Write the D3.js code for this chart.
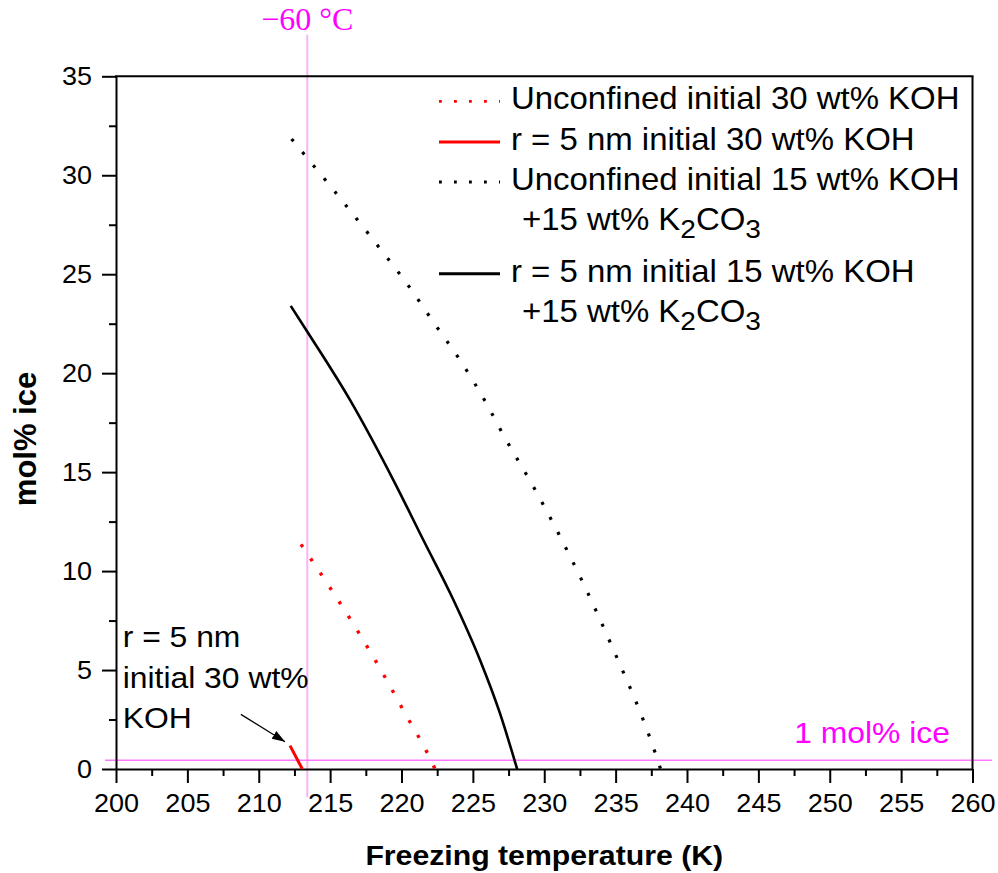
<!DOCTYPE html>
<html>
<head>
<meta charset="utf-8">
<script src="https://cdn.jsdelivr.net/npm/d3@7"></script>
<style>
body{margin:0;background:#fff}
text{font-family:"Liberation Sans",Arial,Helvetica,sans-serif;fill:#000}
</style>
</head>
<body>
<div id="chart"></div>
<script>
// freezing temperature (K), mol% ice
var unconf30 = [[212.96,11.35],[214.95,9.21],[216.81,7.11],[218.56,5.0],[220.25,2.81],[221.88,0.71],[222.35,0]]
var conf30 = [[212.19,1.18],[213.05,0]]
var unconf15 = [[212.3,31.83],[217.84,26.9],[220.78,24.12],[222.18,22.64],[224.17,20.58],[225.97,18.44],[227.08,16.95],[229.35,14.12],[230.87,12.08],[234.6,6.43],[237.8,0.76],[238.15,0]]
var conf15 = [[212.24,23.4],[213.47,22.02],[216.39,18.65],[219.43,14.6],[221.53,11.57],[223.64,8.54],[225.5,5.51],[226.9,2.81],[228.1,0]]

var xMajor = [200,205,210,215,220,225,230,235,240,245,250,255,260]
var xMinor = [202.5,207.5,212.5,217.5,222.5,227.5,232.5,237.5,242.5,247.5,252.5,257.5]
var yMajor = [0,5,10,15,20,25,30,35]
var yMinor = [2.5,7.5,12.5,17.5,22.5,27.5,32.5]

var minus60K = 213.4      // -60 C marker
var iceLevel = 0.44       // "1 mol% ice" marker

var legendItems = [
  {label:"Unconfined initial 30 wt% KOH", color:"#ff0000", dotted:true},
  {label:"r = 5 nm initial 30 wt% KOH", color:"#ff0000", dotted:false},
  {label:"Unconfined initial 15 wt% KOH", color:"#000", dotted:true, extra:true},
  {label:"r = 5 nm initial 15 wt% KOH", color:"#000", dotted:false, extra:true}
]

var width = 998, height = 873
var margin = {top: 76.3, right: 25.5, bottom: 104, left: 116}
var SX = 1.08

var svg = d3.select("#chart").append("svg")
  .attr("width", width).attr("height", height)

var x = d3.scaleLinear().domain([200,260]).range([margin.left, width - margin.right])
var y = d3.scaleLinear().domain([0,35]).range([height - margin.bottom, margin.top])

function stretch(sel, origin){
  sel.style("transform-box","fill-box").style("transform-origin", origin).style("transform","scaleX(" + SX + ")")
}

// reference lines (drawn under the axes)
svg.append("line")
  .attr("x1", x(minus60K)).attr("x2", x(minus60K))
  .attr("y1", y(-1.42)).attr("y2", y(37.1))
  .attr("stroke", "#f8b4f8").attr("stroke-width", 2)
svg.append("line")
  .attr("x1", x(199.23)).attr("x2", x(261.37))
  .attr("y1", y(iceLevel)).attr("y2", y(iceLevel))
  .attr("stroke", "#ff78ff").attr("stroke-width", 1.5)

// axes
var xAxis = svg.append("g")
  .attr("transform", "translate(0," + y(0) + ")")
  .call(d3.axisBottom(x).tickValues(xMajor).tickSize(14).tickSizeOuter(0).tickPadding(8).tickFormat(d3.format("d")))
var xMin = svg.append("g")
  .attr("transform", "translate(0," + y(0) + ")")
  .call(d3.axisBottom(x).tickValues(xMinor).tickSize(7).tickSizeOuter(0).tickFormat(""))
var yAxis = svg.append("g")
  .attr("transform", "translate(" + x(200) + ",0)")
  .call(d3.axisLeft(y).tickValues(yMajor).tickSize(14).tickSizeOuter(0).tickPadding(10).tickFormat(d3.format("d")))
var yMin = svg.append("g")
  .attr("transform", "translate(" + x(200) + ",0)")
  .call(d3.axisLeft(y).tickValues(yMinor).tickSize(7).tickSizeOuter(0).tickFormat(""))
xMin.select(".domain").remove()
yMin.select(".domain").remove()

;[xAxis, xMin, yAxis, yMin].forEach(function(g){
  g.selectAll("path,line").attr("stroke", "#000").attr("stroke-width", 2)
})
xAxis.selectAll("text").attr("font-size", 25).attr("font-family", null).attr("fill", "#000").attr("dy", "0.85em")
  .each(function(){ stretch(d3.select(this), "center") })
yAxis.selectAll("text").attr("font-size", 25).attr("font-family", null).attr("fill", "#000")
  .each(function(){ stretch(d3.select(this), "right") })

// frame top / right
svg.append("line").attr("x1", x(200) - 1).attr("x2", x(260) + 1).attr("y1", y(35)).attr("y2", y(35))
  .attr("stroke", "#000").attr("stroke-width", 2)
svg.append("line").attr("x1", x(260)).attr("x2", x(260)).attr("y1", y(35)).attr("y2", y(0))
  .attr("stroke", "#000").attr("stroke-width", 2)

// series
var line = d3.line().x(function(d){return x(d[0])}).y(function(d){return y(d[1])})
var lineSmooth = d3.line().x(function(d){return x(d[0])}).y(function(d){return y(d[1])}).curve(d3.curveMonotoneX)

svg.append("path").datum(unconf15).attr("d", lineSmooth)
  .attr("fill","none").attr("stroke","#000").attr("stroke-width",3.2).attr("stroke-dasharray","3,14")
svg.append("path").datum(conf15).attr("d", lineSmooth)
  .attr("fill","none").attr("stroke","#000").attr("stroke-width",2.6)
svg.append("path").datum(unconf30).attr("d", lineSmooth)
  .attr("fill","none").attr("stroke","#ff0000").attr("stroke-width",3.4).attr("stroke-dasharray","3.2,14")
svg.append("path").datum(conf30).attr("d", line)
  .attr("fill","none").attr("stroke","#ff0000").attr("stroke-width",3)

// annotation with arrow
svg.append("defs").append("marker")
  .attr("id","arrow").attr("viewBox","0 0 10 10").attr("refX",10).attr("refY",5)
  .attr("markerWidth",13).attr("markerHeight",13).attr("markerUnits","userSpaceOnUse").attr("orient","auto")
  .append("path").attr("d","M0,1.5 L10,5 L0,8.5 Z").attr("fill","#000")
svg.append("line")
  .attr("x1", x(208.75)).attr("y1", y(2.76)).attr("x2", x(211.84)).attr("y2", y(1.38))
  .attr("stroke","#000").attr("stroke-width",1.2).attr("marker-end","url(#arrow)")

var annot = ["r = 5 nm", "initial 30 wt%", "KOH"]
var annotY = [6.18, 4.09, 2.07]
annot.forEach(function(t, i){
  svg.append("text").attr("x", x(200.47)).attr("y", y(annotY[i]))
    .attr("font-size", 29.5).text(t).call(stretch, "left")
})

// reference labels
svg.append("text").attr("x", x(minus60K)).attr("y", 30)
  .attr("text-anchor","middle").attr("font-size", 32).style("font-family","'Liberation Serif','Times New Roman',serif")
  .style("fill","#ff00ff").text("\u221260 \u00b0C")
svg.append("text").attr("x", 950).attr("y", 743)
  .attr("text-anchor","end").attr("font-size", 29.5).style("fill","#ff00ff")
  .text("1 mol% ice").call(stretch, "right")

// axis titles
svg.append("text").attr("x", (x(200) + x(260)) / 2).attr("y", 865)
  .attr("text-anchor","middle").attr("font-size", 28).attr("font-weight","bold")
  .text("Freezing temperature (K)").call(stretch, "center")
svg.append("text").attr("transform","translate(36," + 439 + ") rotate(-90)")
  .attr("text-anchor","middle").attr("font-size", 31).attr("font-weight","bold")
  .text("mol% ice")

// legend
var legRows = [109.3, 150, 190, 281.7]
var legSub = [null, null, 230, 321.7]
legendItems.forEach(function(d, i){
  var ly = legRows[i]
  svg.append("line").attr("x1", 439).attr("x2", 500).attr("y1", ly - 8).attr("y2", ly - 8)
    .attr("stroke", d.color).attr("stroke-width", d.dotted ? 2.8 : 3)
    .attr("stroke-dasharray", d.dotted ? "2.8,12.2" : null)
  svg.append("text").attr("x", 511).attr("y", ly).attr("font-size", 30.5)
    .text(d.label).call(stretch, "left")
  if (d.extra){
    var t = svg.append("text").attr("x", 522).attr("y", legSub[i]).attr("font-size", 30.5)
    t.append("tspan").text("+15 wt% K")
    t.append("tspan").attr("font-size", 26).attr("dy", 8).text("2")
    t.append("tspan").attr("dy", -8).text("CO")
    t.append("tspan").attr("font-size", 26).attr("dy", 8).text("3")
    t.call(stretch, "left")
  }
})
</script>
</body>
</html>
